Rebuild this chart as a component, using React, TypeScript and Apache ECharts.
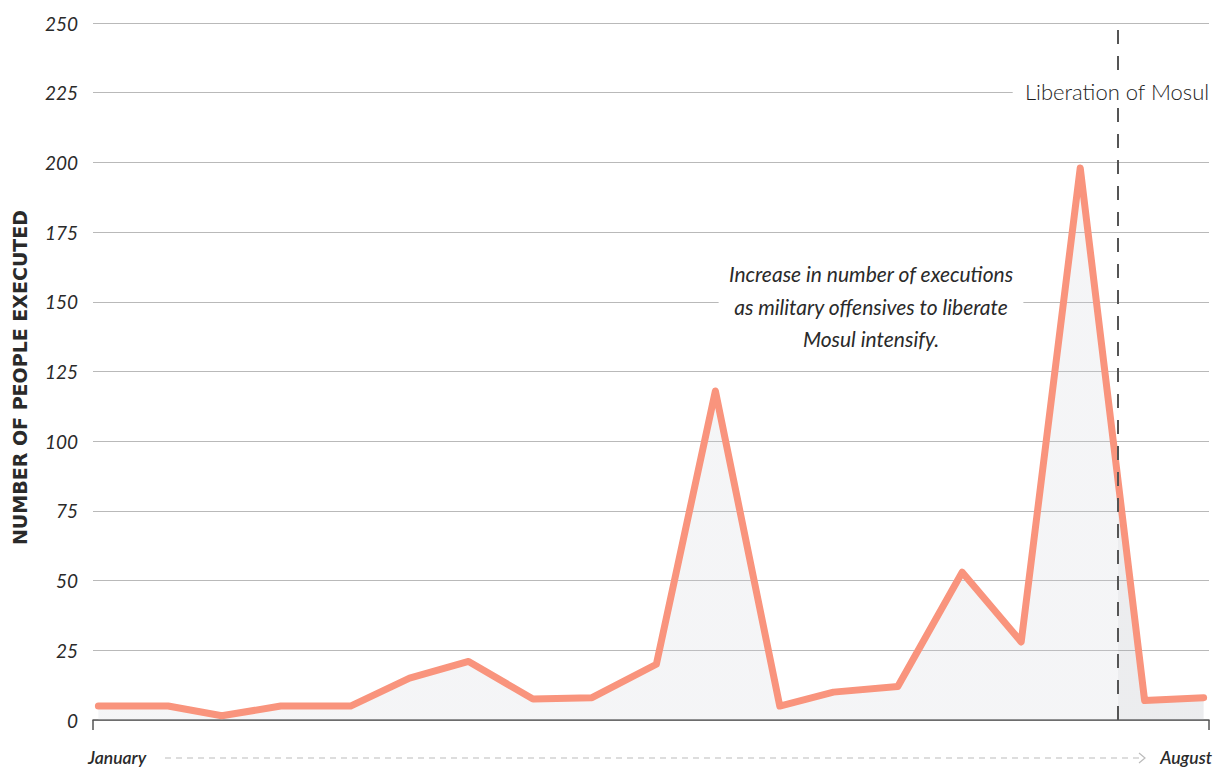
import React, { useEffect, useRef } from "react";
import * as echarts from "echarts";

// Day offsets from January 1 of each reading
const days = [0, 13, 23, 34, 47, 58, 69, 81, 92, 104, 115, 127, 137, 149, 161, 172, 183, 195, 206];
// Number of people executed
const executed = [5, 5, 1.5, 5, 5, 15, 21, 7.5, 8, 20, 118, 5, 10, 12, 53, 28, 198, 7, 8];
const yTicks = [0, 25, 50, 75, 100, 125, 150, 175, 200, 225, 250];
const liberationDay = 190;
const liberationLabel = "Liberation of Mosul";
const annotationLines = [
  "Increase in number of executions",
  "as military offensives to liberate",
  "Mosul intensify.",
];
const periodLabels = ["January", "August"];
const yTitle = "NUMBER OF PEOPLE EXECUTED";

export default function App() {
  const ref = useRef<HTMLDivElement>(null);
  useEffect(() => {
    if (!ref.current) return;
    const chart = echarts.init(ref.current, null, { renderer: "svg" });
    const xmin = days[0];
    const xmax = days[days.length - 1];
    const frac = (liberationDay - xmin) / (xmax - xmin);
    const areaA = "rgba(205,208,215,0.3)";
    const areaB = "rgba(165,168,178,0.3)";
    const font = "Lato";
    chart.setOption({
      animation: false,
      grid: { left: 93, right: 9, top: 23, bottom: 47 },
      xAxis: {
        type: "value",
        min: -1,
        max: 207,
        axisLine: { show: true, lineStyle: { color: "#555", width: 1.5 } },
        axisTick: {
          show: true,
          customValues: [-1, 207],
          length: 10,
          inside: false,
          lineStyle: { color: "#555", width: 1.5 },
        },
        axisLabel: { show: false },
        splitLine: { show: false },
      },
      yAxis: {
        type: "value",
        min: 0,
        max: 250,
        interval: 25,
        axisLine: { show: false },
        axisTick: { show: false },
        axisLabel: {
          margin: 15,
          fontFamily: font,
          fontStyle: "italic",
          fontSize: 19,
          color: "#2a2a2a",
          customValues: yTicks,
        },
        splitLine: { show: true, lineStyle: { color: "#b9b9b9", width: 1 } },
        name: yTitle,
        nameLocation: "middle",
        nameRotate: 90,
        nameGap: 64,
        nameTextStyle: {
          fontFamily: "DejaVu Sans",
          fontWeight: "bold",
          fontSize: 19,
          color: "#2a2a2a",
          padding: [0, 12, 0, 0],
        },
      },
      series: [
        {
          type: "line",
          data: days.map((d, i) => [d, executed[i]]),
          symbol: "none",
          lineStyle: { color: "#f9947d", width: 7, cap: "round", join: "round" },
          areaStyle: {
            color: new echarts.graphic.LinearGradient(0, 0, 1, 0, [
              { offset: 0, color: areaA },
              { offset: frac, color: areaA },
              { offset: frac, color: areaB },
              { offset: 1, color: areaB },
            ]),
          },
          z: 3,
          markLine: {
            silent: true,
            symbol: "none",
            label: { show: false },
            lineStyle: { color: "#555", width: 2, type: [14, 12] },
            data: [{ xAxis: liberationDay }],
            z: 4,
          },
        },
      ],
      graphic: [
        {
          type: "text",
          z: 100,
          x: 1117,
          y: 91,
          style: {
            text: liberationLabel,
            fontFamily: font,
            fontWeight: 300,
            fontSize: 22,
            fill: "#1e1e1e",
            align: "center",
            verticalAlign: "middle",
            backgroundColor: "#fff",
            padding: [6, 12],
          },
        },
        {
          type: "text",
          z: 100,
          x: 871,
          y: 306,
          style: {
            text: annotationLines.join("\n"),
            fontFamily: font,
            fontStyle: "italic",
            fontSize: 21,
            lineHeight: 32.5,
            fill: "#2a2a2a",
            align: "center",
            verticalAlign: "middle",
            backgroundColor: "#fff",
            padding: [2, 10],
          },
        },
        {
          type: "text",
          x: 88,
          y: 757,
          style: {
            text: periodLabels[0],
            fontFamily: font,
            fontStyle: "italic",
            fontWeight: 600,
            fontSize: 17.5,
            fill: "#2a2a2a",
            align: "left",
            verticalAlign: "middle",
          },
        },
        {
          type: "text",
          x: 1212,
          y: 757,
          style: {
            text: periodLabels[1],
            fontFamily: font,
            fontStyle: "italic",
            fontWeight: 600,
            fontSize: 17.5,
            fill: "#2a2a2a",
            align: "right",
            verticalAlign: "middle",
          },
        },
        {
          type: "line",
          shape: { x1: 165, y1: 758, x2: 1143, y2: 758 },
          style: { stroke: "#bbb", lineWidth: 1.2, lineDash: [6, 5] },
        },
        {
          type: "polyline",
          shape: { points: [[1139, 753], [1145, 758], [1139, 763]] },
          style: { stroke: "#bbb", lineWidth: 1.2, fill: "none" },
        },
      ],
    });
    return () => chart.dispose();
  }, []);
  return (
    <div
      ref={ref}
      style={{ position: "fixed", left: 0, top: 0, width: 1218, height: 767, background: "#fff" }}
    />
  );
}
